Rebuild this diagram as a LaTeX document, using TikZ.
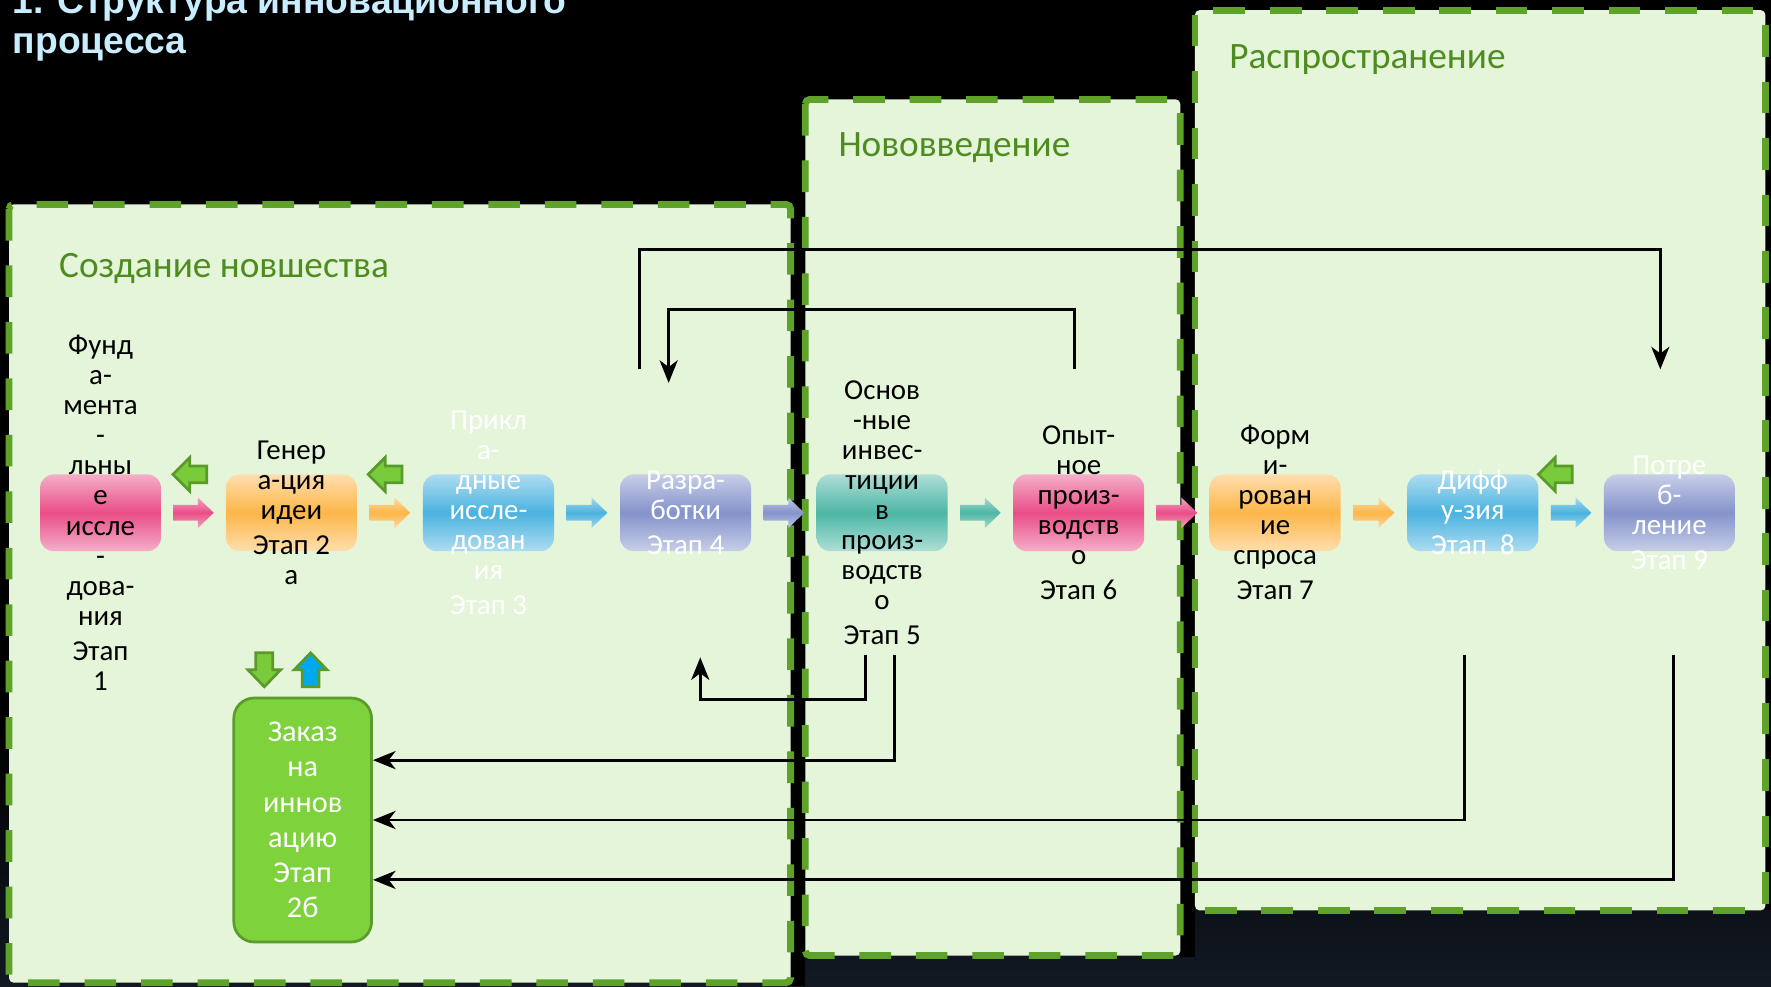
\documentclass[tikz,border=0pt]{standalone}
\usepackage{fontspec}
\usetikzlibrary{arrows.meta,calc}
\newfontfamily\bodyfont{Carlito}
\newfontfamily\titlefont{Liberation Sans}
\definecolor{panelfill}{HTML}{E4F5D9}
\definecolor{dashgreen}{HTML}{5FA22A}
\definecolor{labelgreen}{HTML}{4E8C20}
\definecolor{titleblue}{HTML}{C8EDFF}
\definecolor{pinkc}{HTML}{E94D87}
\definecolor{orangec}{HTML}{FDB649}
\definecolor{bluec}{HTML}{4BB2DF}
\definecolor{lavc}{HTML}{8493CB}
\definecolor{tealc}{HTML}{4CB6A5}
\definecolor{zfill}{HTML}{7ED23B}
\definecolor{zdraw}{HTML}{5B9C2C}
\definecolor{garrow}{HTML}{7ACB3A}
\definecolor{gdark}{HTML}{5A9A2A}
\definecolor{uparrowc}{HTML}{00A9EC}
\definecolor{navyc}{HTML}{121923}
\tikzset{
  panel/.style={fill=panelfill, draw=dashgreen, line width=3pt, dash pattern=on 14pt off 11pt, rounded corners=2pt},
  plabel/.style={font=\bodyfont\fontsize{16.5}{19}\selectfont, text=labelgreen, inner sep=0pt},
  titlestyle/.style={font=\titlefont\bfseries\fontsize{16.5}{19}\selectfont, text=titleblue, inner sep=0pt},
  stbox/.style={minimum width=58pt, minimum height=34pt, rounded corners=6pt, inner sep=0pt,
    top color=#1!45!white, bottom color=#1!45!white, middle color=#1},
  stxt/.style={align=center, inner sep=0pt, font=\bodyfont\fontsize{12.8}{13.3}\selectfont},
  zbox/.style={minimum width=61pt, minimum height=108pt, rounded corners=9pt, fill=zfill, draw=zdraw,
    line width=1.2pt, text=white, align=center, inner sep=0pt, font=\bodyfont\fontsize{13.4}{15.6}\selectfont},
  conn/.style={draw=black, line width=1.3pt, line join=miter, -{Stealth[length=10pt,width=8pt,inset=3pt]}},
  pics/fwd/.style={code={
    \shade[top color=#1!50!white, bottom color=#1!50!white, middle color=#1]
      (-18,-7) -- (4,-7) -- (4,-13.5) -- (18,0) -- (4,13.5) -- (4,7) -- (-18,7) -- cycle;}},
  pics/back/.style={code={
    \filldraw[fill=garrow, draw=gdark, line width=1.2pt, line join=miter]
      (-15,0) -- (0,-15) -- (0,-7.5) -- (15,-7.5) -- (15,7.5) -- (0,7.5) -- (0,15) -- cycle;}},
  pics/down/.style={code={
    \filldraw[fill=#1, draw=gdark, line width=1.2pt, line join=miter]
      (-7.5,-15) -- (7.5,-15) -- (7.5,0) -- (14.5,0) -- (0,15) -- (-14.5,0) -- (-7.5,0) -- cycle;}},
  pics/up/.style={code={
    \filldraw[fill=#1, draw=gdark, line width=1.2pt, line join=miter]
      (-7.5,15) -- (7.5,15) -- (7.5,0) -- (14.5,0) -- (0,-15) -- (-14.5,0) -- (-7.5,0) -- cycle;}},
}
\begin{document}
\begin{tikzpicture}[x=0.5pt,y=-0.5pt]
\useasboundingbox (0,0) rectangle (1568,873);
% background
\fill[black] (0,0) rectangle (1568,873);
\shade[top color=black, bottom color=navyc] (0,640) rectangle (1568,873);
% title
\node[titlestyle, anchor=base west] (title1) at (11,12) {1. Структура инновационного};
\node[titlestyle, anchor=base west] (title2) at (11,47) {процесса};
% panel shadows
\fill[black] (700,181) rectangle (713,873);
\fill[black] (1045,88) rectangle (1058,847);
\fill[black] (1563,8) rectangle (1568,806);
% panels
\path[panel] (8,181) rectangle (700,870);
\path[panel] (713,88) rectangle (1045,846);
\path[panel] (1058,9) rectangle (1563,806);
\node[plabel, anchor=base west] (l1) at (52,246) {Создание новшества};
\node[plabel, anchor=base west] (l2) at (742,139) {Нововведение};
\node[plabel, anchor=base west] (l3) at (1088,61) {Распространение};
% stage boxes
\node[stbox=pinkc, minimum width=53.5pt] (b1) at (89,454) {};
\node[stbox=orangec] (b2) at (258,454) {};
\node[stbox=bluec] (b3) at (432.5,454) {};
\node[stbox=lavc] (b4) at (607,454) {};
\node[stbox=tealc] (b5) at (781,454) {};
\node[stbox=pinkc] (b6) at (955,454) {};
\node[stbox=orangec] (b7) at (1129,454) {};
\node[stbox=bluec] (b8) at (1304,454) {};
\node[stbox=lavc] (b9) at (1478,454) {};
% forward arrows
\pic at ($(b1.east)!0.5!(b2.west)$) {fwd=pinkc};
\pic at ($(b2.east)!0.5!(b3.west)$) {fwd=orangec};
\pic at ($(b3.east)!0.5!(b4.west)$) {fwd=bluec};
\pic at ($(b4.east)!0.5!(b5.west)$) {fwd=lavc};
\pic at ($(b5.east)!0.5!(b6.west)$) {fwd=tealc};
\pic at ($(b6.east)!0.5!(b7.west)$) {fwd=pinkc};
\pic at ($(b7.east)!0.5!(b8.west)$) {fwd=orangec};
\pic at ($(b8.east)!0.5!(b9.west)$) {fwd=bluec};
% back arrows
\pic at (168,420) {back};
\pic at (341,420) {back};
\pic at (1377,420) {back};
\pic at (234,593) {down=garrow};
\pic at (275,593) {up=uparrowc};
% stage texts
\node[stxt, text=black] (t1) at (b1.center) {Фунд\\а-\\мента\\-\\льны\\е\\иссле\\-\\дова-\\ния\\[2.2pt]Этап\\1};
\node[stxt, text=black] (t2) at (b2.center) {Генер\\а-ция\\идеи\\[2.2pt]Этап 2\\а};
\node[stxt, text=white] (t3) at (b3.center) {Прикл\\а-\\дные\\иссле-\\дован\\ия\\[2.2pt]Этап 3};
\node[stxt, text=white] (t4) at (b4.center) {Разра-\\ботки\\[2.2pt]Этап 4};
\node[stxt, text=black] (t5) at (b5.center) {Основ\\-ные\\инвес-\\тиции\\в\\произ-\\водств\\о\\[2.2pt]Этап 5};
\node[stxt, text=black] (t6) at (b6.center) {Опыт-\\ное\\произ-\\водств\\о\\[2.2pt]Этап 6};
\node[stxt, text=black] (t7) at (b7.center) {Форм\\и-\\рован\\ие\\спроса\\[2.2pt]Этап 7};
\node[stxt, text=white] (t8) at (b8.center) {Дифф\\у-зия\\[2.2pt]Этап\ \ 8};
\node[stxt, text=white] (t9) at (b9.center) {Потре\\б-\\ление\\[2.2pt]Этап 9};
% order box
\node[zbox] (zakaz) at (268,726) {Заказ\\на\\иннов\\ацию\\Этап\\2б};
% connectors
\coordinate (s1) at (566,327); \coordinate (e1) at (1470,327);
\coordinate (s2) at (951,327); \coordinate (e2) at (592,339);
\coordinate (s3) at (766,580); \coordinate (e3) at (620,582);
\coordinate (s4) at (792,580);
\coordinate (s5) at (1297,580);
\coordinate (s6) at (1482,580);
\draw[conn] (s1) -- ++(0,-106) -| (e1);
\draw[conn] (s2) -- ++(0,-53) -| (e2);
\draw[conn] (s3) -- ++(0,39) -| (e3);
\draw[conn] (s4) |- ([yshift=26.5pt]zakaz.east);
\draw[conn] (s5) |- (zakaz.east);
\draw[conn] (s6) |- ([yshift=-26.5pt]zakaz.east);
\end{tikzpicture}
\end{document}
